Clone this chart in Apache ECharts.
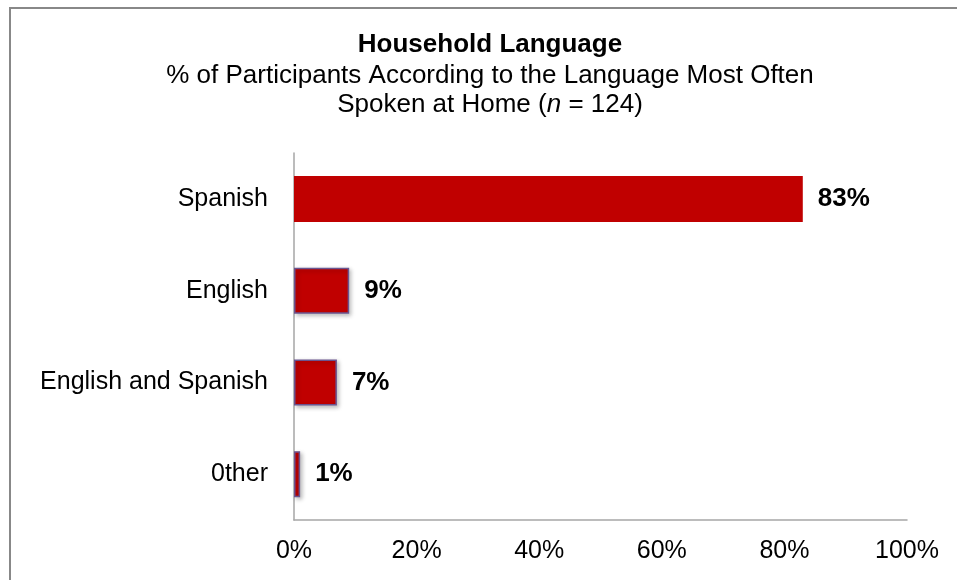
<!DOCTYPE html>
<html>
<head>
<meta charset="utf-8">
<script src="https://cdn.jsdelivr.net/npm/echarts@6/dist/echarts.min.js"></script>
<style>
  html, body { margin: 0; padding: 0; background: #fff; }
  #chart { width: 957px; height: 580px; }
</style>
</head>
<body>
<div id="chart"></div>
<script>
// Household language survey results (share of participants, %)
const categories = ['Spanish', 'English', 'English and Spanish', '0ther'];
const percentValues = [83, 9, 7, 1];
const axisTicks = [0, 20, 40, 60, 80, 100];

const FONT = '"Liberation Sans", Arial, sans-serif';

// outlined bars get a thin purple edge and a soft drop shadow
const outlinedStyle = {
  color: '#C00000',
  borderColor: '#6A5590',
  borderWidth: 1.5,
  shadowColor: 'rgba(0,0,0,0.25)',
  shadowBlur: 4,
  shadowOffsetX: 2,
  shadowOffsetY: 2
};

const chart = echarts.init(document.getElementById('chart'), null, { renderer: 'canvas' });

chart.setOption({
  animation: false,
  backgroundColor: '#ffffff',
  graphic: [
    {
      type: 'rect',
      shape: { x: 10, y: 8, width: 1000, height: 1000 },
      style: { fill: 'none', stroke: '#888888', lineWidth: 2 },
      silent: true
    },
    {
      type: 'text',
      x: 490, y: 45,
      style: {
        text: 'Household Language',
        font: 'bold 26px ' + FONT,
        fill: '#000',
        textAlign: 'center',
        textVerticalAlign: 'middle'
      },
      silent: true
    },
    {
      type: 'text',
      x: 490, y: 76,
      style: {
        text: '% of Participants According to the Language Most Often',
        font: '26px ' + FONT,
        fill: '#000',
        textAlign: 'center',
        textVerticalAlign: 'middle'
      },
      silent: true
    },
    {
      type: 'text',
      x: 490, y: 105,
      style: {
        text: '{r|Spoken at Home (}{i|n}{r| = 124)}',
        font: '26px ' + FONT,
        fill: '#000',
        textAlign: 'center',
        textVerticalAlign: 'middle',
        rich: {
          r: { font: '26px ' + FONT, fill: '#000' },
          i: { font: 'italic 26px ' + FONT, fill: '#000' }
        }
      },
      silent: true
    }
  ],
  grid: { left: 294, right: 50, top: 153, bottom: 60, containLabel: false },
  xAxis: {
    type: 'value',
    min: axisTicks[0],
    max: axisTicks[axisTicks.length - 1],
    interval: axisTicks[1] - axisTicks[0],
    axisLine: { show: true, lineStyle: { color: '#A6A6A6', width: 1.5 } },
    axisTick: { show: false },
    splitLine: { show: false },
    axisLabel: {
      formatter: v => v + '%',
      fontFamily: FONT, fontSize: 25, color: '#000', margin: 19
    }
  },
  yAxis: {
    type: 'category',
    inverse: true,
    data: categories,
    axisLine: { show: true, lineStyle: { color: '#A6A6A6', width: 1.5 } },
    axisTick: { show: false },
    axisLabel: { fontFamily: FONT, fontSize: 25, color: '#000', margin: 26 }
  },
  series: [{
    type: 'bar',
    barWidth: 46,
    data: percentValues.map((v, i) => ({
      value: v,
      itemStyle: i === 0 ? { color: '#C00000' } : outlinedStyle
    })),
    label: {
      show: true,
      position: 'right',
      distance: 15,
      formatter: p => p.value + '%',
      fontFamily: FONT, fontSize: 26, fontWeight: 'bold', color: '#000'
    }
  }]
});
</script>
</body>
</html>
